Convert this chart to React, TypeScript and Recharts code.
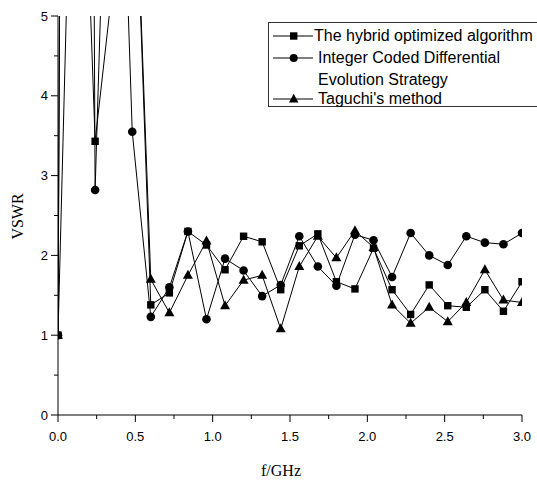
import React from 'react';
import { LineChart, Line, XAxis, YAxis } from 'recharts';

const freq = [0, 0.12, 0.24, 0.36, 0.48, 0.6, 0.72, 0.84, 0.96, 1.08, 1.2, 1.32, 1.44, 1.56, 1.68, 1.8, 1.92, 2.04, 2.16, 2.28, 2.4, 2.52, 2.64, 2.76, 2.88, 3.0];
const hybrid = [1.0, 10.0, 3.43, 5.5, 8.0, 1.38, 1.53, 2.3, 2.13, 1.82, 2.24, 2.17, 1.57, 2.12, 2.27, 1.67, 1.58, 2.09, 1.57, 1.26, 1.63, 1.37, 1.35, 1.57, 1.3, 1.67];
const icde = [1.0, 50.0, 2.82, 10.5, 3.55, 1.23, 1.6, 2.3, 1.2, 1.96, 1.81, 1.49, 1.63, 2.24, 1.86, 1.62, 2.26, 2.19, 1.73, 2.28, 2.0, 1.88, 2.24, 2.16, 2.14, 2.28];
const taguchi = [1.0, 50.0, 50.0, 50.0, 8.0, 1.7, 1.28, 1.75, 2.18, 1.37, 1.69, 1.75, 1.08, 1.86, 2.24, 1.97, 2.31, 2.1, 1.38, 1.15, 1.35, 1.17, 1.41, 1.82, 1.44, 1.41];

const xTicks = [0, 0.25, 0.5, 0.75, 1, 1.25, 1.5, 1.75, 2, 2.25, 2.5, 2.75, 3];
const yTicks = [0, 0.5, 1, 1.5, 2, 2.5, 3, 3.5, 4, 4.5, 5];

const seriesNames = ['The hybrid optimized algorithm', 'Integer Coded Differential', 'Evolution Strategy', "Taguchi's method"];

const data = freq.map((f, i) => ({ f, hybrid: hybrid[i], icde: icde[i], taguchi: taguchi[i] }));

const SANS = '"Liberation Sans", Arial, Helvetica, sans-serif';
const SERIF = '"Liberation Serif", "Times New Roman", serif';

const isMajor = (v: number, step: number) => Math.abs(v / step - Math.round(v / step)) < 1e-6;

const XTick = (props: any) => {
  const { x, y, payload } = props;
  const v = payload.value as number;
  const major = isMajor(v, 0.5);
  return (
    <g>
      <line x1={x} x2={x} y1={y} y2={y + (major ? 7 : 4)} stroke="#000" strokeWidth={1} />
      {major && (
        <text x={x} y={y + 26} textAnchor="middle" fontFamily={SANS} fontSize={13} fill="#000">
          {v.toFixed(1)}
        </text>
      )}
    </g>
  );
};

const YTick = (props: any) => {
  const { x, y, payload } = props;
  const v = payload.value as number;
  const major = isMajor(v, 1);
  return (
    <g>
      <line x1={x - (major ? 7 : 4)} x2={x} y1={y} y2={y} stroke="#000" strokeWidth={1} />
      {major && (
        <text x={x - 10} y={y + 4.5} textAnchor="end" fontFamily={SANS} fontSize={13} fill="#000">
          {String(v)}
        </text>
      )}
    </g>
  );
};

const SquareDot = (props: any) => {
  const { cx, cy, index } = props;
  if (cx == null || cy == null) return <g key={`sq-${index}`} />;
  return <rect key={`sq-${index}`} x={cx - 3.7} y={cy - 3.7} width={7.4} height={7.4} fill="#000" />;
};
const CircleDot = (props: any) => {
  const { cx, cy, index } = props;
  if (cx == null || cy == null) return <g key={`ci-${index}`} />;
  return <circle key={`ci-${index}`} cx={cx} cy={cy} r={4.3} fill="#000" />;
};
const TriDot = (props: any) => {
  const { cx, cy, index } = props;
  if (cx == null || cy == null) return <g key={`tr-${index}`} />;
  return <polygon key={`tr-${index}`} points={`${cx},${cy - 5.5} ${cx - 5},${cy + 3.5} ${cx + 5},${cy + 3.5}`} fill="#000" />;
};

const LegendIcon = ({ kind }: { kind: 'sq' | 'ci' | 'tr' }) => (
  <svg width={40} height={12} style={{ display: 'block' }}>
    <line x1={0} x2={40} y1={6} y2={6} stroke="#000" strokeWidth={1} />
    {kind === 'sq' && <rect x={17} y={2.3} width={7.4} height={7.4} fill="#000" />}
    {kind === 'ci' && <circle cx={20.7} cy={6} r={4} fill="#000" />}
    {kind === 'tr' && <polygon points="20.7,0.8 16,9.5 25.4,9.5" fill="#000" />}
  </svg>
);

const LegendBox = () => {
  const rowStyle: React.CSSProperties = { position: 'absolute', left: 4, display: 'flex', alignItems: 'center', whiteSpace: 'nowrap' };
  const textStyle: React.CSSProperties = { fontFamily: SANS, fontSize: 16, color: '#000', lineHeight: '18px' };
  return (
    <div style={{ position: 'absolute', left: 268, top: 22, width: 280, height: 85, border: '1px solid #333', borderRight: 'none', boxSizing: 'border-box', background: '#fff' }}>
      <div style={{ ...rowStyle, top: 4 }}>
        <LegendIcon kind="sq" />
        <span style={{ ...textStyle, marginLeft: 1 }}>{seriesNames[0]}</span>
      </div>
      <div style={{ ...rowStyle, top: 25.5 }}>
        <LegendIcon kind="ci" />
        <span style={{ ...textStyle, marginLeft: 5 }}>{seriesNames[1]}</span>
      </div>
      <div style={{ ...rowStyle, top: 48, left: 49 }}>
        <span style={textStyle}>{seriesNames[2]}</span>
      </div>
      <div style={{ ...rowStyle, top: 67 }}>
        <LegendIcon kind="tr" />
        <span style={{ ...textStyle, marginLeft: 5 }}>{seriesNames[3]}</span>
      </div>
    </div>
  );
};

const XLabel = (props: any) => {
  const vb = props.viewBox || {};
  return (
    <text x={281} y={(vb.y ?? 415) + 61} textAnchor="middle" fontFamily={SERIF} fontSize={16} fill="#000">
      f/GHz
    </text>
  );
};

const YLabel = (props: any) => {
  const vb = props.viewBox || {};
  const cy = (vb.y ?? 16) + (vb.height ?? 399) / 2 + 1;
  const cx = 17.5;
  return (
    <text x={cx} y={cy} transform={`rotate(-90, ${cx}, ${cy})`} textAnchor="middle" dominantBaseline="central" fontFamily={SERIF} fontSize={16} fill="#000">
      VSWR
    </text>
  );
};

export default function App() {
  return (
    <div style={{ position: 'absolute', left: 0, top: 0, width: 537, height: 480, background: '#fff', overflow: 'hidden' }}>
      <LineChart width={537} height={480} data={data} margin={{ top: 16, right: 15, left: 0, bottom: 0 }}>
        <XAxis
          dataKey="f"
          type="number"
          domain={[0, 3]}
          ticks={xTicks}
          interval={0}
          tick={<XTick />}
          tickLine={false}
          tickSize={0}
          tickMargin={0}
          height={65}
          axisLine={{ stroke: '#000', strokeWidth: 1 }}
          allowDataOverflow
          label={<XLabel />}
        />
        <YAxis
          type="number"
          domain={[0, 5]}
          ticks={yTicks}
          interval={0}
          tick={<YTick />}
          tickLine={false}
          tickSize={0}
          tickMargin={0}
          width={58}
          axisLine={{ stroke: '#000', strokeWidth: 1 }}
          allowDataOverflow
          label={<YLabel />}
        />
        <Line type="linear" dataKey="hybrid" stroke="#000" strokeWidth={1} dot={SquareDot} activeDot={false} isAnimationActive={false} />
        <Line type="linear" dataKey="icde" stroke="#000" strokeWidth={1} dot={CircleDot} activeDot={false} isAnimationActive={false} />
        <Line type="linear" dataKey="taguchi" stroke="#000" strokeWidth={1} dot={TriDot} activeDot={false} isAnimationActive={false} />
      </LineChart>
      <LegendBox />
    </div>
  );
}
